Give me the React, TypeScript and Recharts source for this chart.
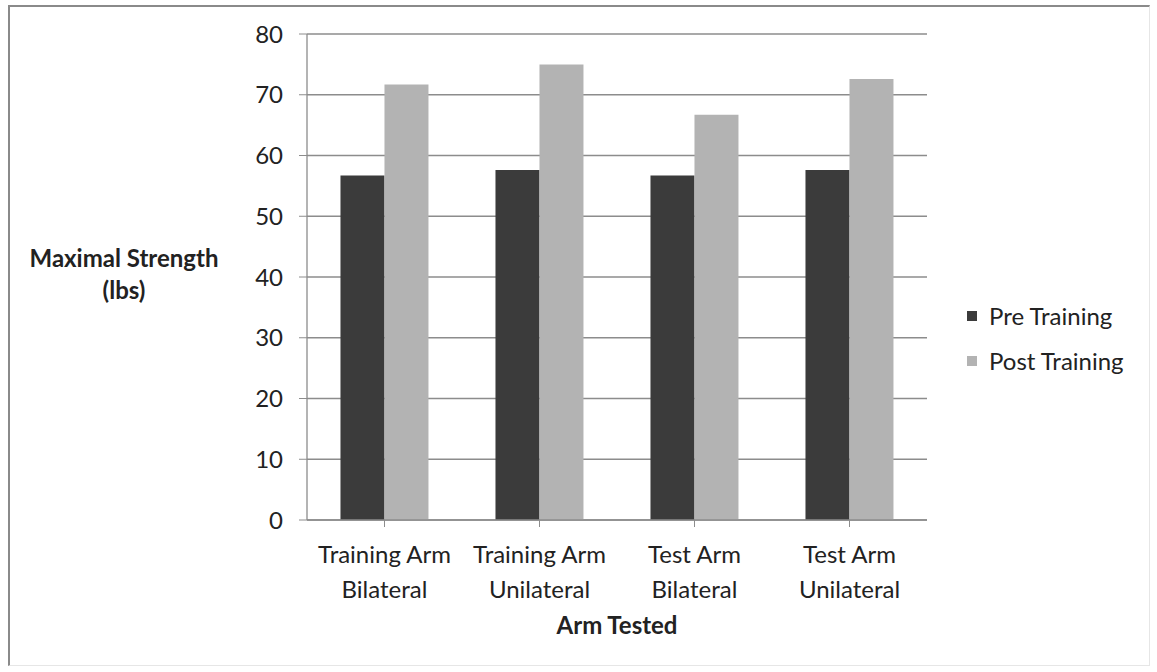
import { BarChart, Bar, XAxis, YAxis, CartesianGrid } from 'recharts';

const categories = [
  'Training Arm\nBilateral',
  'Training Arm\nUnilateral',
  'Test Arm\nBilateral',
  'Test Arm\nUnilateral',
];
const preTraining = [56.7, 57.6, 56.7, 57.6];
const postTraining = [71.7, 75.0, 66.7, 72.6];
const yTicks = [0, 10, 20, 30, 40, 50, 60, 70, 80];
const seriesNames = ['Pre Training', 'Post Training'];
const seriesColors = ['#3b3b3b', '#b3b3b3'];

const data = categories.map((name, i) => ({
  name,
  pre: preTraining[i],
  post: postTraining[i],
}));

const FONT = 'Lato, "Open Sans", sans-serif';
const TEXT = '#222';
const GRID = '#8c8c8c';

function CategoryTick(props: any) {
  const { x, y, payload } = props;
  const lines = String(payload.value).split('\n');
  return (
    <text x={x} y={y + 34} textAnchor="middle" fill={TEXT} fontFamily={FONT} fontSize={24}>
      {lines.map((l, i) => (
        <tspan key={i} x={x} dy={i === 0 ? 0 : 35}>
          {l}
        </tspan>
      ))}
    </text>
  );
}

export default function App() {
  return (
    <div style={{ position: 'absolute', left: 0, top: 0, width: 1157, height: 672, background: '#fff' }}>
      <div
        style={{
          position: 'absolute',
          left: 8,
          top: 5,
          width: 1142,
          height: 661,
          borderLeft: '2px solid #8a8a8a',
          borderTop: '2px solid #8a8a8a',
          borderRight: '1px solid #e6e6e6',
          borderBottom: '1px solid #e6e6e6',
          boxSizing: 'border-box',
        }}
      />
      <BarChart
        width={1157}
        height={672}
        data={data}
        margin={{ top: 34, right: 230, bottom: 92, left: 257 }}
        barCategoryGap="21.6%"
        barGap={0}
        style={{ position: 'absolute', left: 0, top: 0 }}
      >
        <CartesianGrid vertical={false} stroke={GRID} strokeWidth={1.3} />
        <XAxis
          dataKey="name"
          height={60}
          tick={<CategoryTick />}
          interval={0}
          axisLine={{ stroke: GRID, strokeWidth: 1.3 }}
          tickLine={{ stroke: GRID }}
          tickSize={7}
        />
        <YAxis
          width={50}
          domain={[0, 80]}
          ticks={yTicks}
          interval={0}
          axisLine={{ stroke: GRID, strokeWidth: 1.3 }}
          tickLine={{ stroke: GRID }}
          tickSize={8}
          tick={{ fill: TEXT, fontFamily: FONT, fontSize: 24 }}
          tickMargin={16}
        />
        <Bar dataKey="pre" name={seriesNames[0]} fill={seriesColors[0]} isAnimationActive={false} />
        <Bar dataKey="post" name={seriesNames[1]} fill={seriesColors[1]} isAnimationActive={false} />
      </BarChart>

      {/* legend */}
      <div
        style={{
          position: 'absolute',
          left: 967,
          top: 293,
          fontFamily: FONT,
          fontSize: 24,
          color: TEXT,
        }}
      >
        {seriesNames.map((label, i) => (
          <div key={label} style={{ display: 'flex', alignItems: 'center', height: 45 }}>
            <span
              style={{
                width: 10,
                height: 10,
                background: seriesColors[i],
                marginRight: 12,
                display: 'inline-block',
              }}
            />
            {label}
          </div>
        ))}
      </div>

      <div
        style={{
          position: 'absolute',
          left: 0,
          width: 248,
          top: 242,
          textAlign: 'center',
          fontFamily: FONT,
          fontWeight: 700,
          fontSize: 24,
          lineHeight: '32px',
          color: TEXT,
        }}
      >
        Maximal Strength
        <br />
        (lbs)
      </div>
      <div
        style={{
          position: 'absolute',
          left: 307,
          width: 620,
          top: 610,
          textAlign: 'center',
          fontFamily: FONT,
          fontWeight: 700,
          fontSize: 24,
          color: TEXT,
        }}
      >
        Arm Tested
      </div>
    </div>
  );
}
